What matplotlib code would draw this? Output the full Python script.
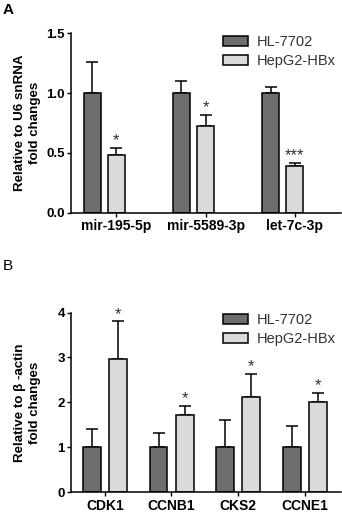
import matplotlib
matplotlib.use('Agg')
import matplotlib.pyplot as plt
import numpy as np

plt.rcParams['font.family'] = ['Liberation Sans', 'DejaVu Sans']

# Panel A: miRNA levels relative to U6 snRNA
mirnas = ['mir-195-5p', 'mir-5589-3p', 'let-7c-3p']
a_hl = [1.0, 1.0, 1.0]
a_hl_err = [0.257, 0.10, 0.054]
a_hep = [0.482, 0.725, 0.393]
a_hep_err = [0.056, 0.092, 0.025]
a_stars = ['*', '*', '***']

# Panel B: gene levels relative to beta-actin
genes = ['CDK1', 'CCNB1', 'CKS2', 'CCNE1']
b_hl = [1.0, 1.0, 1.0, 1.0]
b_hl_err = [0.40, 0.32, 0.60, 0.47]
b_hep = [2.97, 1.71, 2.11, 2.0]
b_hep_err = [0.83, 0.21, 0.52, 0.22]
b_stars = ['*', '*', '*', '*']

dark = '#6e6e6e'
light = '#dadada'
W, H = 342, 513

fig = plt.figure(figsize=(W / 100, H / 100), dpi=100)


def px_axes(x0, y0, x1, y1):
    # axes from pixel box (top-left origin)
    return fig.add_axes([x0 / W, 1 - y1 / H, (x1 - x0) / W, (y1 - y0) / H])


def draw_panel(ax, cats, hl, hl_err, hep, hep_err, stars, dark_x, light_x, width, margins, ylim, yticks, yfmt, ylabel):
    x = np.arange(len(cats))
    ekw = dict(ecolor='k', elinewidth=1.1, capsize=4.3, capthick=1.1)
    ax.bar(x + dark_x, hl, width, color=dark, edgecolor='k', linewidth=1.1, zorder=2)
    ax.bar(x + light_x, hep, width, color=light, edgecolor='k', linewidth=1.1, zorder=2)
    ax.errorbar(x + dark_x, hl, yerr=[np.zeros(len(cats)), hl_err], fmt='none', zorder=1, **ekw)
    ax.errorbar(x + light_x, hep, yerr=[np.zeros(len(cats)), hep_err], fmt='none', zorder=1, **ekw)
    for i, s in enumerate(stars):
        ax.annotate(s, (x[i] + light_x, hep[i] + hep_err[i]), xytext=(0, 2), textcoords='offset points',
                    ha='center', va='baseline', fontsize=12, color='#333333')
    ax.set_xlim(-margins[0], len(cats) - 1 + margins[1])
    ax.set_ylim(*ylim)
    ax.set_xticks(x)
    ax.set_xticklabels(cats, fontsize=10, fontweight='bold')
    ax.set_yticks(yticks)
    ax.set_yticklabels([yfmt.format(v) for v in yticks], fontsize=9.5, fontweight='bold')
    ax.tick_params(direction='out', length=3, width=1, pad=1.5, colors='k')
    ax.spines['top'].set_visible(False)
    ax.spines['right'].set_visible(False)
    ax.spines['left'].set_linewidth(1.1)
    ax.spines['bottom'].set_linewidth(1.1)
    ax.set_ylabel(ylabel, fontsize=9.6, fontweight='bold', linespacing=1.3)
    ax.yaxis.set_label_coords(-0.112, 0.5)
    ax.set_facecolor('none')


axA = px_axes(71, 33.3, 341, 212.7)
draw_panel(axA, mirnas, a_hl, a_hl_err, a_hep, a_hep_err, a_stars,
           -0.27, 0.0, 0.19, (0.51, 0.52), (0, 1.5), [0.0, 0.5, 1.0, 1.5], '{:.1f}',
           'Relative to U6 snRNA\nfold changes')

axB = px_axes(71, 312.5, 341, 492.3)
draw_panel(axB, genes, b_hl, b_hl_err, b_hep, b_hep_err, b_stars,
           -0.195, 0.2, 0.27, (0.51, 0.547), (0, 4), [0, 1, 2, 3, 4], '{:d}',
           'Relative to \u03b2 -actin\nfold changes')

for ax, top in [(axA, 35), (axB, 313)]:
    leg = ax.legend(['HL-7702', 'HepG2-HBx'], loc='upper left', bbox_to_anchor=(223 / W, 1 - top / H),
                    bbox_transform=fig.transFigure, frameon=False, fontsize=10.5, borderpad=0,
                    handlelength=1.7, handleheight=0.7, handletextpad=0.6, labelspacing=0.35,
                    borderaxespad=0)
    for t in leg.get_texts():
        t.set_color('#333333')

fig.text(3 / W, 1 - 3 / H, 'A', fontsize=11, fontweight='bold', va='top', ha='left')
fig.text(3 / W, 1 - 259 / H, 'B', fontsize=11, va='top', ha='left')

fig.savefig('out.png', dpi=100)
